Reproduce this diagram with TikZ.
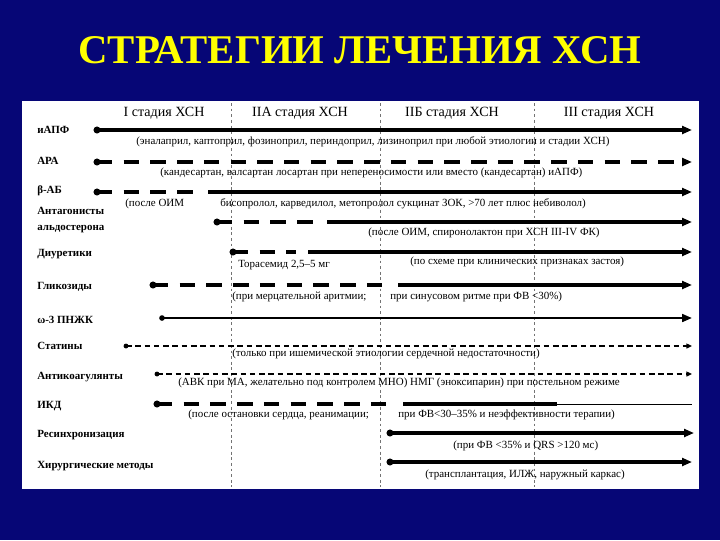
\documentclass[tikz,border=0pt]{standalone}
\usepackage{fontspec}
\setmainfont{Liberation Serif}
\usetikzlibrary{arrows.meta, positioning}
\definecolor{NavyBg}{RGB}{6, 6, 118}
\definecolor{TitleYellow}{RGB}{255, 255, 0}

\begin{document}
\begin{tikzpicture}[
        x=0.025cm, y=-0.025cm,
        rowlabel/.style={anchor=west, font=\bfseries\fontsize{7.8}{11}\selectfont, align=left, inner sep=0pt},
        stagehead/.style={font=\fontsize{10}{12}\selectfont, inner sep=0pt},
        note/.style={anchor=west, font=\fontsize{7.8}{9}\selectfont, inner sep=0pt},
        startdot/.style={circle, fill=black, minimum size=5pt, inner sep=0pt},
        heavy/.style={line width=2.2pt},
        medium/.style={line width=1.6pt},
        heavydash/.style={line width=2.2pt, dash pattern=on 11pt off 8pt},
        lightdash/.style={line width=0.9pt, dash pattern=on 4pt off 2.6pt},
        tip/.style={-{Triangle[length=7pt,width=5.5pt]}},
        divider/.style={black!55, line width=0.4pt, dash pattern=on 2pt off 2pt}
    ]
        % background and panel
        \fill[NavyBg] (0,0) rectangle (720,540);
        \fill[white] (22,101) rectangle (699,489);
        \node[font=\bfseries\fontsize{29}{32}\selectfont, text=TitleYellow] (title) at (360,50) {СТРАТЕГИИ ЛЕЧЕНИЯ ХСН};

        % stage dividers
        \foreach \n/\xx in {a/231, b/380, c/534} {
            \coordinate (div\n t) at (\xx,103);
            \coordinate (div\n b) at (\xx,487);
            \draw[divider] (div\n t) -- (div\n b);
        }

        % stage headings
        \node[stagehead] (st1) at (164,113) {I стадия ХСН};
        \node[stagehead] (st2a) at (300,113) {IIА стадия ХСН};
        \node[stagehead] (st2b) at (452,113) {IIБ стадия ХСН};
        \node[stagehead] (st3) at (609,113) {III стадия ХСН};

        % row labels
        \node[rowlabel] (apf) at (37,130) {иАПФ};
        \node[rowlabel] (ara) at (37,161) {АРА};
        \node[rowlabel] (bab) at (37,191) {β-АБ};
        \node[rowlabel] (ald) at (37,220) {Антагонисты\\альдостерона};
        \node[rowlabel] (diu) at (37,254) {Диуретики};
        \node[rowlabel] (gli) at (37,287) {Гликозиды};
        \node[rowlabel] (omg) at (37,320) {ω-3 ПНЖК};
        \node[rowlabel] (sta) at (37,346) {Статины};
        \node[rowlabel] (ant) at (37,377) {Антикоагулянты};
        \node[rowlabel] (ikd) at (37,406) {ИКД};
        \node[rowlabel] (crt) at (37,435) {Ресинхронизация};
        \node[rowlabel] (sur) at (37,466) {Хирургические методы};

        % иАПФ
        \node[startdot] (apf-s) at (97,130) {};
        \coordinate (apf-e) at (692,130);
        \draw[heavy, tip] (apf-s.center) -- (apf-e);
        \node[note] (apf-n) at (136,142) {(эналаприл, каптоприл, фозиноприл, периндоприл, лизиноприл при любой этиологии и стадии ХСН)};

        % АРА
        \node[startdot] (ara-s) at (97,162) {};
        \coordinate (ara-e) at (692,162);
        \draw[heavydash, tip] (ara-s.center) -- (ara-e);
        \node[note] (ara-n) at (160,173) {(кандесартан, валсартан лосартан при непереносимости или вместо (кандесартан) иАПФ)};

        % β-АБ
        \node[startdot] (bab-s) at (97,192) {};
        \coordinate (bab-m) at (196,192);
        \coordinate (bab-k) at (208,192);
        \coordinate (bab-e) at (692,192);
        \draw[heavydash] (bab-s.center) -- (bab-m);
        \draw[heavy, tip] (bab-k) -- (bab-e);
        \node[note] (bab-n1) at (125,204) {(после ОИМ};
        \node[note] (bab-n2) at (220,204) {бисопролол, карведилол, метопролол сукцинат ЗОК, >70 лет плюс небиволол)};

        % Антагонисты альдостерона
        \node[startdot] (ald-s) at (217,222) {};
        \coordinate (ald-m) at (313,222);
        \coordinate (ald-k) at (327,222);
        \coordinate (ald-e) at (692,222);
        \draw[heavydash] (ald-s.center) -- (ald-m);
        \draw[heavy, tip] (ald-k) -- (ald-e);
        \node[note] (ald-n) at (368,233) {(после ОИМ, спиронолактон при ХСН III-IV ФК)};

        % Диуретики
        \node[startdot] (diu-s) at (233,252) {};
        \coordinate (diu-m) at (296,252);
        \coordinate (diu-k) at (308,252);
        \coordinate (diu-e) at (692,252);
        \draw[heavydash] (diu-s.center) -- (diu-m);
        \draw[heavy, tip] (diu-k) -- (diu-e);
        \node[note] (diu-n1) at (238,265) {Торасемид 2,5–5 мг};
        \node[note] (diu-n2) at (410,262) {(по схеме при клинических признаках застоя)};

        % Гликозиды
        \node[startdot] (gli-s) at (153,285) {};
        \coordinate (gli-m) at (384,285);
        \coordinate (gli-k) at (398,285);
        \coordinate (gli-e) at (692,285);
        \draw[heavydash] (gli-s.center) -- (gli-m);
        \draw[heavy, tip] (gli-k) -- (gli-e);
        \node[note] (gli-n1) at (232,297) {(при мерцательной аритмии;};
        \node[note] (gli-n2) at (390,297) {при синусовом ритме при ФВ <30\%)};

        % ω-3 ПНЖК
        \node[startdot, minimum size=4pt] (omg-s) at (162,318) {};
        \coordinate (omg-e) at (692,318);
        \draw[medium, tip] (omg-s.center) -- (omg-e);

        % Статины
        \node[startdot, minimum size=3.5pt] (sta-s) at (126,346) {};
        \coordinate (sta-e) at (692,346);
        \draw[lightdash, -{Triangle[length=4pt,width=3.5pt]}] (sta-s.center) -- (sta-e);
        \node[note] (sta-n) at (232,354) {(только при ишемической этиологии сердечной недостаточности)};

        % Антикоагулянты
        \node[startdot, minimum size=3.5pt] (ant-s) at (157,374) {};
        \coordinate (ant-e) at (692,374);
        \draw[lightdash, -{Triangle[length=4pt,width=3.5pt]}] (ant-s.center) -- (ant-e);
        \node[note] (ant-n) at (178,383) {(АВК при МА, желательно под контролем МНО) НМГ (эноксипарин) при постельном режиме};

        % ИКД
        \node[startdot] (ikd-s) at (157,404) {};
        \coordinate (ikd-m) at (390,404);
        \coordinate (ikd-k) at (403,404);
        \coordinate (ikd-j) at (557,404);
        \coordinate (ikd-e) at (692,404);
        \draw[heavydash] (ikd-s.center) -- (ikd-m);
        \draw[heavy] (ikd-k) -- (ikd-j);
        \draw[line width=0.7pt] (ikd-j) -- (ikd-e);
        \node[note] (ikd-n1) at (188,415) {(после остановки сердца, реанимации;};
        \node[note] (ikd-n2) at (398,415) {при ФВ<30–35\% и неэффективности терапии)};

        % Ресинхронизация
        \node[startdot] (crt-s) at (390,433) {};
        \coordinate (crt-e) at (694,433);
        \draw[heavy, tip] (crt-s.center) -- (crt-e);
        \node[note] (crt-n) at (453,446) {(при ФВ <35\% и QRS >120 мс)};

        % Хирургические методы
        \node[startdot] (sur-s) at (390,462) {};
        \coordinate (sur-e) at (692,462);
        \draw[heavy, tip] (sur-s.center) -- (sur-e);
        \node[note] (sur-n) at (425,475) {(трансплантация, ИЛЖ, наружный каркас)};
    \end{tikzpicture}
\end{document}
